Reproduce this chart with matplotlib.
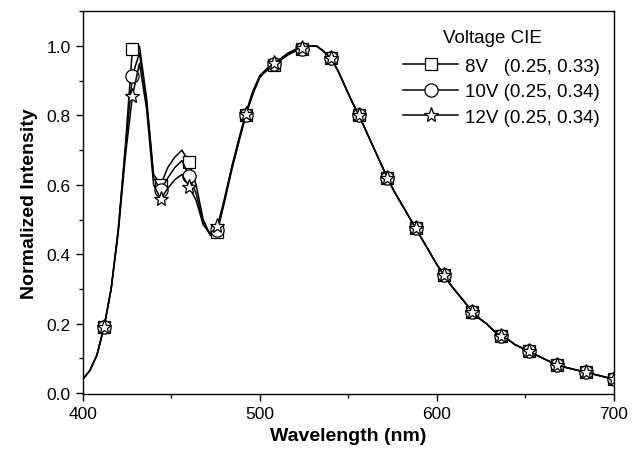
import numpy as np
import matplotlib
matplotlib.use("Agg")
import matplotlib.pyplot as plt
from matplotlib.ticker import MultipleLocator

plt.rcParams['font.family'] = ['Liberation Sans', 'DejaVu Sans']

wavelength = list(range(400, 701, 4))

v8 = [0.040, 0.065, 0.11, 0.19, 0.30, 0.47, 0.71, 0.99, 1.00, 0.85, 0.63, 0.60,
      0.65, 0.68, 0.70, 0.665, 0.60, 0.50, 0.455, 0.465, 0.55, 0.64, 0.72, 0.80,
      0.86, 0.91, 0.93, 0.945, 0.96, 0.975, 0.985, 0.990, 1.00, 1.00, 0.985, 0.965,
      0.93, 0.885, 0.84, 0.80, 0.755, 0.71, 0.665, 0.62, 0.58, 0.545, 0.51, 0.475,
      0.44, 0.405, 0.37, 0.34, 0.31, 0.285, 0.26, 0.235, 0.215, 0.20, 0.18, 0.165,
      0.155, 0.14, 0.13, 0.12, 0.11, 0.10, 0.09, 0.08, 0.075, 0.07, 0.065, 0.06,
      0.055, 0.05, 0.045, 0.04]
v10 = [0.040, 0.065, 0.11, 0.19, 0.30, 0.47, 0.70, 0.915, 0.98, 0.84, 0.62, 0.585,
       0.62, 0.65, 0.67, 0.625, 0.575, 0.49, 0.455, 0.47, 0.555, 0.645, 0.725, 0.80,
       0.865, 0.912, 0.932, 0.947, 0.962, 0.977, 0.987, 0.992, 1.00, 1.00, 0.985, 0.965,
       0.93, 0.885, 0.84, 0.80, 0.755, 0.71, 0.665, 0.62, 0.58, 0.545, 0.51, 0.475,
       0.44, 0.405, 0.37, 0.34, 0.31, 0.285, 0.26, 0.235, 0.215, 0.20, 0.18, 0.165,
       0.155, 0.14, 0.13, 0.12, 0.11, 0.10, 0.09, 0.08, 0.075, 0.07, 0.065, 0.06,
       0.055, 0.05, 0.045, 0.04]
v12 = [0.040, 0.065, 0.11, 0.19, 0.30, 0.46, 0.68, 0.855, 0.95, 0.82, 0.60, 0.56,
       0.59, 0.615, 0.63, 0.595, 0.555, 0.485, 0.46, 0.48, 0.56, 0.65, 0.73, 0.805,
       0.87, 0.915, 0.935, 0.95, 0.965, 0.98, 0.99, 0.995, 1.00, 1.00, 0.985, 0.965,
       0.93, 0.885, 0.84, 0.80, 0.755, 0.71, 0.665, 0.62, 0.58, 0.545, 0.51, 0.475,
       0.44, 0.405, 0.37, 0.34, 0.31, 0.285, 0.26, 0.235, 0.215, 0.20, 0.18, 0.165,
       0.155, 0.14, 0.13, 0.12, 0.11, 0.10, 0.09, 0.08, 0.075, 0.07, 0.065, 0.06,
       0.055, 0.05, 0.045, 0.04]

labels = ["8V   (0.25, 0.33)", "10V (0.25, 0.34)", "12V (0.25, 0.34)"]
legend_title = "Voltage CIE"
markers = ["s", "o", "*"]
msizes = [9, 9.5, 11]

fig = plt.figure(figsize=(6.32, 4.6), dpi=100)
ax = fig.add_axes([0.131, 0.141, 0.8405, 0.833])

for ys, lab, mk, ms in zip([v8, v10, v12], labels, markers, msizes):
    ax.plot(wavelength, ys, color='black', lw=1.1, marker=mk, markersize=ms,
            markerfacecolor='white', markeredgecolor='black', markeredgewidth=0.9,
            markevery=(3, 4), label=lab)

ax.set_xlim(400, 700)
ax.set_ylim(-0.003, 1.101)
ax.xaxis.set_major_locator(MultipleLocator(100))
ax.xaxis.set_minor_locator(MultipleLocator(50))
ax.yaxis.set_major_locator(MultipleLocator(0.2))
ax.yaxis.set_minor_locator(MultipleLocator(0.1))
ax.yaxis.set_major_formatter(matplotlib.ticker.FormatStrFormatter('%.1f'))
ax.tick_params(which='both', direction='out', top=False, right=False, labelsize=12.5, width=1)
ax.tick_params(which='major', length=5)
ax.tick_params(which='minor', length=3)
for s in ax.spines.values():
    s.set_linewidth(1)

ax.set_xlabel("Wavelength (nm)", fontsize=14, fontweight='bold', labelpad=4)
ax.set_ylabel("Normalized Intensity", fontsize=14, fontweight='bold', labelpad=6)

leg = ax.legend(loc='center left', bbox_to_anchor=(0.603, 0.789),
                frameon=False, fontsize=13.5, handlelength=2.93,
                handletextpad=0.37, labelspacing=0.44, borderaxespad=0.0, borderpad=0.0)
ax.text(0.772, 0.932, legend_title, transform=ax.transAxes, ha='center', va='center',
        fontsize=13.5)

fig.savefig("out.png", dpi=100)
